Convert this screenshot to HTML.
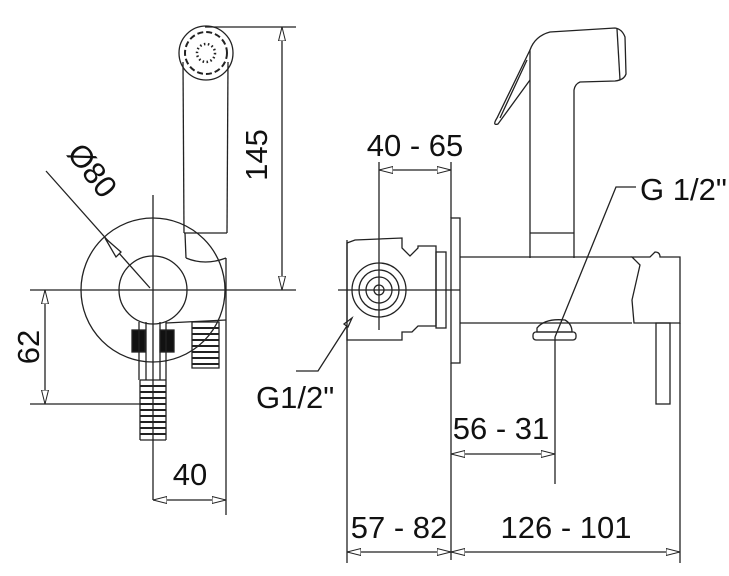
<!DOCTYPE html>
<html><head><meta charset="utf-8"><style>
html,body{margin:0;padding:0;background:#fff;}
svg{display:block;}
text{font-family:"Liberation Sans",sans-serif;fill:#111;}
</style></head><body>
<svg width="729" height="576" viewBox="0 0 729 576" xmlns="http://www.w3.org/2000/svg">
<defs>
<marker id="a" viewBox="0 0 14 8" refX="14" refY="4" markerWidth="14" markerHeight="8" orient="auto-start-reverse" markerUnits="userSpaceOnUse">
<path d="M0,0.5 L14,4 L0,7.5 Z" fill="#fff" stroke="#222" stroke-width="1"/>
</marker>
</defs>
<g fill="none" stroke="#222" stroke-width="1.3">
<circle cx="206" cy="53" r="27"/>
<circle cx="206" cy="53" r="21" stroke-dasharray="6,3" stroke-width="2"/>
<circle cx="206" cy="53" r="9" stroke-dasharray="1.5,2.5" stroke-width="2.5"/>
<line x1="183" y1="62" x2="184" y2="233"/>
<line x1="228" y1="62" x2="227" y2="233"/>
<line x1="184" y1="233" x2="227" y2="233"/>
<line x1="185" y1="233" x2="186" y2="258"/>
<path d="M186,258 Q205,266 226,258"/>
<line x1="205" y1="27" x2="296" y2="27"/>
<line x1="282" y1="27" x2="282" y2="290" marker-start="url(#a)" marker-end="url(#a)"/>
<line x1="30" y1="290" x2="296" y2="290"/>
<circle cx="153" cy="290" r="72"/>
<circle cx="153" cy="290" r="34"/>
<line x1="153" y1="195" x2="153" y2="500"/>
<line x1="226" y1="258" x2="226" y2="515"/>
<line x1="46" y1="171" x2="150" y2="288"/>
<path d="M105,238 L121,252 L116,257 Z" fill="#fff"/>
<rect x="132" y="330" width="13" height="22" fill="#111"/>
<rect x="160" y="330" width="14" height="22" fill="#111"/>
<line x1="139" y1="322" x2="139" y2="380"/>
<line x1="146" y1="322" x2="146" y2="380"/>
<line x1="160" y1="322" x2="160" y2="380"/>
<line x1="166" y1="322" x2="166" y2="380"/>
<path d="M140,380 h26 M140,380 v60 M166,380 v60 M140,440 h26"/>
<path d="M140,386 h26 M140,392 h26 M140,398 h26 M140,404 h26 M140,410 h26 M140,416 h26 M140,422 h26 M140,428 h26 M140,434 h26" stroke-width="2"/>
<path d="M192,322 h27 v46 h-27 Z"/>
<path d="M192,328 h27 M192,334 h27 M192,340 h27 M192,346 h27 M192,352 h27 M192,358 h27 M192,364 h27" stroke-width="2"/>
<line x1="166" y1="323" x2="226" y2="320"/>
<line x1="30" y1="404" x2="142" y2="404"/>
<line x1="45" y1="290" x2="45" y2="404" marker-start="url(#a)" marker-end="url(#a)"/>
<line x1="153" y1="500" x2="226" y2="500" marker-start="url(#a)" marker-end="url(#a)"/>

<path d="M530,258 L530,50 Q535,36 550,32 L615,28 Q622,29 625,37 L626,74 Q624,80 615,81 L580,82 Q575,84 574,90 L574,258"/>
<line x1="530" y1="233" x2="574" y2="233"/>
<line x1="617" y1="29" x2="620" y2="80"/>
<path d="M530,50 L497,118 Q492,126 498,124 L530,80 M527,60 L500,118"/>
<path d="M347,243 L355,240 L402,238 L402,248 L410,256 L418,248 L418,246 L436,246 L436,326 L418,326 L412,332 L402,332 L402,340 L355,340 L347,340 Z"/>
<rect x="436" y="252" width="10" height="76"/>
<circle cx="379" cy="290" r="27"/>
<circle cx="379" cy="290" r="20"/>
<circle cx="379" cy="290" r="13"/>
<circle cx="379" cy="290" r="5"/>
<line x1="338" y1="290" x2="460" y2="290"/>
<line x1="379" y1="162" x2="379" y2="330"/>
<rect x="451" y="218" width="9" height="145"/>
<line x1="451" y1="162" x2="451" y2="218"/>
<line x1="451" y1="363" x2="451" y2="560"/>
<path d="M460,257 L632,257 M460,323 L632,323"/>
<path d="M632,257 L640,265 L632,300 L634,323 L680,323 L680,257 L660,257 Q660,252 655,252 L650,257 Z"/>
<rect x="656" y="323" width="14" height="81"/>
<path d="M537,328 Q545,318 565,320 Q572,324 572,332 L537,332 Z"/>
<rect x="533" y="332" width="43" height="8" rx="3"/>
<line x1="555" y1="337" x2="555" y2="484"/>
<path d="M555,337 L616,187 L636,187"/>
<path d="M296,371 L318,371 L352,318"/>
<path d="M352,318 L348,327 L344,324 Z" fill="#fff"/>
<line x1="347" y1="240" x2="347" y2="563"/>
<line x1="680" y1="323" x2="680" y2="563"/>
<line x1="379" y1="170" x2="451" y2="170" marker-start="url(#a)" marker-end="url(#a)"/>
<line x1="451" y1="454" x2="555" y2="454" marker-start="url(#a)" marker-end="url(#a)"/>
<line x1="347" y1="552" x2="451" y2="552" marker-start="url(#a)" marker-end="url(#a)"/>
<line x1="451" y1="552" x2="680" y2="552" marker-start="url(#a)" marker-end="url(#a)"/>
</g>
<g font-size="31">
<text x="0" y="0" transform="translate(267,155) rotate(-90)" text-anchor="middle">145</text>
<text x="0" y="0" transform="translate(84,177) rotate(52)" text-anchor="middle">Ø80</text>
<text x="0" y="0" transform="translate(39,347) rotate(-90)" text-anchor="middle">62</text>
<text x="190" y="485" text-anchor="middle">40</text>
<text x="415" y="156" text-anchor="middle">40 - 65</text>
<text x="640" y="200">G 1/2"</text>
<text x="256" y="408">G1/2"</text>
<text x="501" y="439" text-anchor="middle">56 - 31</text>
<text x="399" y="538" text-anchor="middle">57 - 82</text>
<text x="566" y="538" text-anchor="middle">126 - 101</text>
</g>
</svg>
</body></html>
